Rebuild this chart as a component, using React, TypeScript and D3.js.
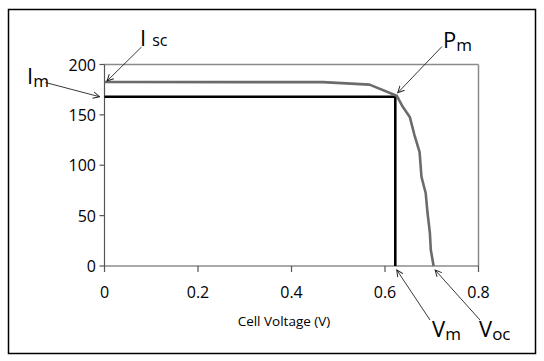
import React from "react";
import * as d3 from "d3";

const voltage = [0, 0.467, 0.567, 0.625, 0.638, 0.653, 0.663, 0.674, 0.678, 0.687, 0.691, 0.696, 0.698, 0.704];
const current = [182.6, 182.5, 180, 169, 158, 148, 130, 113, 88.6, 72.5, 52.6, 32.8, 15.9, 0];
const xTicks = [0, 0.2, 0.4, 0.6, 0.8];
const yTicks = [0, 50, 100, 150, 200];
const xTickLabels = ["0", "0.2", "0.4", "0.6", "0.8"];
const maxPowerV = 0.622;
const maxPowerI = 168;
const shortCircuitI = 182.6;
const openCircuitV = 0.704;

const FONT = "'Open Sans', 'DejaVu Sans', sans-serif";

export default function App() {
  const x = d3.scaleLinear().domain([0, 0.8]).range([104.5, 478.5]);
  const y = d3.scaleLinear().domain([0, 200]).range([266, 64.5]);
  const line = d3
    .line<number>()
    .x((_, i) => x(voltage[i]))
    .y((d) => y(d));
  const grey = "#6b6b6b";

  const arrow = (x1: number, y1: number, x2: number, y2: number, key: string) => (
    <line key={key} x1={x1} y1={y1} x2={x2} y2={y2} stroke="#222" strokeWidth={0.9} markerEnd="url(#ah)" />
  );

  return (
    <svg width={544} height={361} style={{ position: "absolute", left: 0, top: 0 }}>
      <defs>
        <marker id="ah" viewBox="0 0 10 10" refX="9" refY="5" markerWidth="8" markerHeight="8" orient="auto" markerUnits="userSpaceOnUse">
          <path d="M1,1 L9,5 L1,9" fill="none" stroke="#222" strokeWidth={1.2} />
        </marker>
      </defs>
      <rect x={0} y={0} width={544} height={361} fill="#fff" />
      <rect x={8.5} y={9.5} width={527} height={344} fill="none" stroke="#000" strokeWidth={1.5} />

      {/* plot area frame */}
      <line x1={x(0)} y1={y(200)} x2={x(0.8)} y2={y(200)} stroke="#8a8a8a" strokeWidth={1.5} />
      <line x1={x(0.8)} y1={y(200)} x2={x(0.8)} y2={y(0)} stroke="#8a8a8a" strokeWidth={1.5} />
      <line x1={x(0)} y1={y(200)} x2={x(0)} y2={y(0)} stroke="#555" strokeWidth={1.2} />
      <line x1={x(0)} y1={y(0)} x2={x(0.8)} y2={y(0)} stroke="#555" strokeWidth={1.2} />

      {yTicks.map((t) => (
        <g key={"y" + t}>
          <line x1={x(0) - 5} x2={x(0)} y1={y(t)} y2={y(t)} stroke="#555" strokeWidth={1.2} />
          <text x={96} y={y(t) + 6} textAnchor="end" fontFamily={FONT} fontSize={16} fill="#000">
            {t}
          </text>
        </g>
      ))}
      {xTicks.map((t, i) => (
        <g key={"x" + t}>
          <line x1={x(t)} x2={x(t)} y1={y(0)} y2={y(0) + 6} stroke="#555" strokeWidth={1.2} />
          <text x={x(t)} y={298} textAnchor="middle" fontFamily={FONT} fontSize={16} fill="#000">
            {xTickLabels[i]}
          </text>
        </g>
      ))}
      <text x={284} y={326} textAnchor="middle" fontFamily={FONT} fontSize={13.5} fill="#000">
        Cell Voltage (V)
      </text>

      {/* max power rectangle */}
      <line x1={x(0)} y1={y(maxPowerI)} x2={x(maxPowerV)} y2={y(maxPowerI)} stroke="#000" strokeWidth={2.6} />
      <line x1={x(maxPowerV)} y1={y(maxPowerI) - 1.3} x2={x(maxPowerV)} y2={y(0)} stroke="#000" strokeWidth={2.6} />

      {/* I-V curve */}
      <path d={line(current) || ""} fill="none" stroke={grey} strokeWidth={2.6} strokeLinejoin="round" />

      {/* annotations */}
      {arrow(141.5, 47, x(0) + 2.5, y(shortCircuitI) - 1, "isc")}
      {arrow(45.5, 82.5, x(0) - 5, y(maxPowerI), "im")}
      {arrow(442, 46.5, x(maxPowerV) + 2.5, y(maxPowerI) - 4, "pm")}
      {arrow(430, 320, x(maxPowerV) + 1.5, y(0) + 4, "vm")}
      {arrow(480, 320, x(openCircuitV) + 1.5, y(0) + 4, "voc")}

      <text x={140} y={46} fontFamily={FONT} fontSize={22} fill="#000">
        I<tspan fontSize={16} dx={6} dy={0}>sc</tspan>
      </text>
      <text x={27} y={84} fontFamily={FONT} fontSize={22} fill="#000">
        I<tspan fontSize={17} dy={3}>m</tspan>
      </text>
      <text x={443} y={48} fontFamily={FONT} fontSize={22} fill="#000">
        P<tspan fontSize={17} dy={3}>m</tspan>
      </text>
      <text x={432} y={337} fontFamily={FONT} fontSize={22} fill="#000">
        V<tspan fontSize={17} dy={3}>m</tspan>
      </text>
      <text x={479} y={337} fontFamily={FONT} fontSize={22} fill="#000">
        V<tspan fontSize={17} dy={3}>oc</tspan>
      </text>
    </svg>
  );
}
